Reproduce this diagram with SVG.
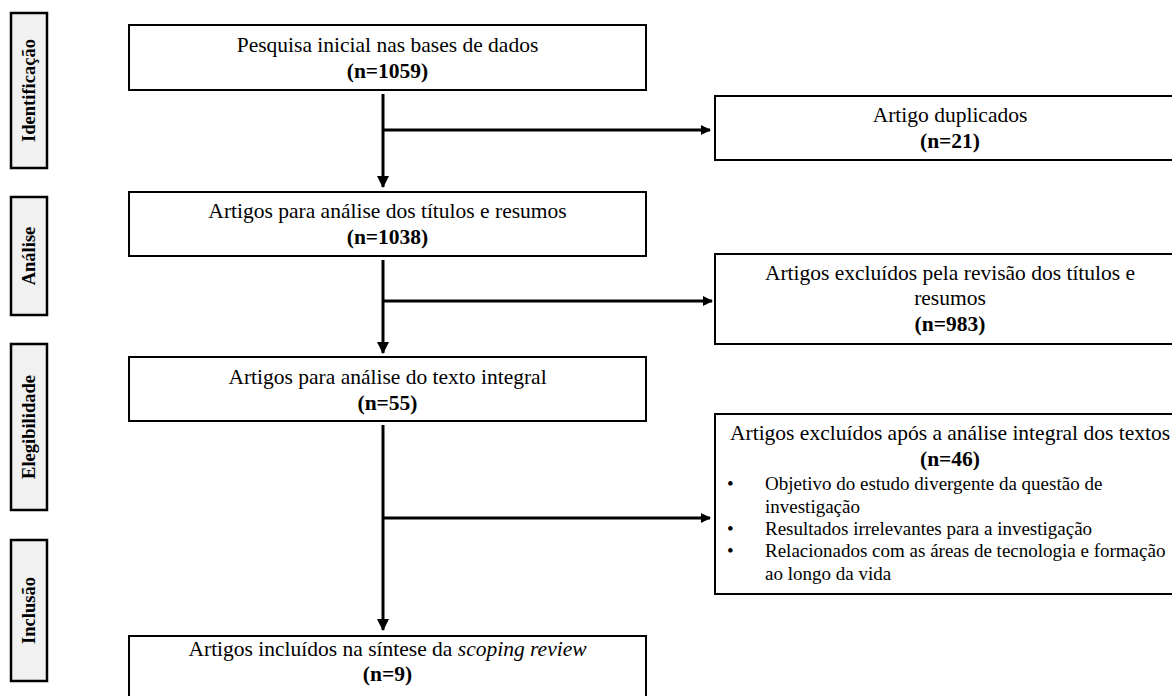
<svg xmlns="http://www.w3.org/2000/svg" width="1172" height="696" viewBox="0 0 1172 696">
<defs>
<style>
.box{fill:#fff;stroke:#000;stroke-width:2}
.side{fill:#f1f1f1;stroke:#000;stroke-width:2.5}
text{font-family:"Liberation Serif","Times New Roman",serif;fill:#000}
.t{font-size:21.5px}
.c{text-anchor:middle}
.b{font-weight:bold}
.s{font-size:18.5px;font-weight:bold;text-anchor:middle}
.ln{stroke:#000;stroke-width:3;fill:none}
.bl{font-size:19px}
</style>
<marker id="ah" markerWidth="10" markerHeight="10" refX="9" refY="5" orient="auto" markerUnits="userSpaceOnUse">
<path d="M0,0 L10,5 L0,10 Z" fill="#000"/>
</marker>
<marker id="av" markerWidth="12" markerHeight="12" refX="11" refY="6" orient="auto" markerUnits="userSpaceOnUse">
<path d="M0,0 L12,6 L0,12 Z" fill="#000"/>
</marker>
</defs>
<rect width="1172" height="696" fill="#fff"/>

<g id="side-identificacao">
<rect class="side" x="11" y="13" width="36" height="155"/>
<text class="s" transform="translate(35,90.5) rotate(-90)">Identificação</text>
</g>
<g id="side-analise">
<rect class="side" x="11" y="197" width="36" height="118"/>
<text class="s" transform="translate(35,256) rotate(-90)">Análise</text>
</g>
<g id="side-elegibilidade">
<rect class="side" x="11" y="344" width="36" height="166"/>
<text class="s" transform="translate(35,427) rotate(-90)">Elegibilidade</text>
</g>
<g id="side-inclusao">
<rect class="side" x="11" y="540" width="36" height="141"/>
<text class="s" transform="translate(35,610.5) rotate(-90)">Inclusão</text>
</g>

<g id="connectors">
<line class="ln" x1="383" y1="94" x2="383" y2="187" marker-end="url(#av)"/>
<line class="ln" x1="383" y1="130" x2="710" y2="130" marker-end="url(#ah)"/>
<line class="ln" x1="383" y1="260" x2="383" y2="353" marker-end="url(#av)"/>
<line class="ln" x1="383" y1="301" x2="712" y2="301" marker-end="url(#ah)"/>
<line class="ln" x1="383" y1="425" x2="383" y2="630" marker-end="url(#av)"/>
<line class="ln" x1="383" y1="518" x2="710" y2="518" marker-end="url(#ah)"/>
</g>

<g id="n1">
<rect class="box" x="129" y="25" width="517" height="65"/>
<text class="t c" x="387.5" y="52">Pesquisa inicial nas bases de dados</text>
<text class="t c b" x="387.5" y="78">(n=1059)</text>
</g>
<g id="n2">
<rect class="box" x="129" y="192" width="517" height="64"/>
<text class="t c" x="387.5" y="218">Artigos para análise dos títulos e resumos</text>
<text class="t c b" x="387.5" y="244">(n=1038)</text>
</g>
<g id="n3">
<rect class="box" x="129" y="357" width="517" height="64"/>
<text class="t c" x="387.5" y="384">Artigos para análise do texto integral</text>
<text class="t c b" x="387.5" y="410">(n=55)</text>
</g>
<g id="n4">
<rect class="box" x="129" y="636" width="517" height="70"/>
<text class="t c" x="387.5" y="656">Artigos incluídos na síntese da <tspan font-style="italic">scoping review</tspan></text>
<text class="t c b" x="387.5" y="681">(n=9)</text>
</g>

<g id="r1">
<rect class="box" x="715" y="96" width="475" height="64"/>
<text class="t c" x="950" y="122">Artigo duplicados</text>
<text class="t c b" x="950" y="148">(n=21)</text>
</g>
<g id="r2">
<rect class="box" x="715" y="254" width="475" height="90"/>
<text class="t c" x="950" y="280">Artigos excluídos pela revisão dos títulos e</text>
<text class="t c" x="950" y="305">resumos</text>
<text class="t c b" x="950" y="331">(n=983)</text>
</g>
<g id="r3">
<rect class="box" x="715" y="414" width="475" height="180"/>
<text class="t c" x="950" y="440">Artigos excluídos após a análise integral dos textos</text>
<text class="t c b" x="950" y="466">(n=46)</text>
<text class="bl" x="727" y="490">•</text>
<text class="bl" x="765" y="490">Objetivo do estudo divergente da questão de</text>
<text class="bl" x="765" y="513">investigação</text>
<text class="bl" x="727" y="535">•</text>
<text class="bl" x="765" y="535">Resultados irrelevantes para a investigação</text>
<text class="bl" x="727" y="557">•</text>
<text class="bl" x="765" y="557">Relacionados com as áreas de tecnologia e formação</text>
<text class="bl" x="765" y="580">ao longo da vida</text>
</g>
</svg>
